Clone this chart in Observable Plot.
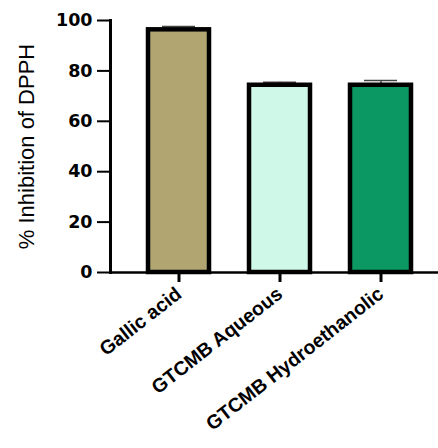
<!DOCTYPE html>
<html><head><meta charset="utf-8">
<script src="https://cdn.jsdelivr.net/npm/d3@7"></script>
<script src="https://cdn.jsdelivr.net/npm/@observablehq/plot@0.6"></script>
<style>body{margin:0;background:#fff}</style>
</head><body><div id="chart"></div>
<script>
const categories = ["Gallic acid", "GTCMB Aqueous", "GTCMB Hydroethanolic"];
const means = [96.3, 74.3, 74.3];
const sds = [1.3, 1.2, 1.9];
const yTicks = [0, 20, 40, 60, 80, 100];
const barColors = ["#b1a672", "#cff8e9", "#0b9862"];

const data = categories.map((c, i) => ({category: c, mean: means[i], top: means[i] + sds[i]}));

const svg = Plot.plot({
  width: 438, height: 448,
  marginLeft: 110, marginRight: 0, marginTop: 20, marginBottom: 176,
  style: {fontFamily: "'Liberation Sans', Arial, sans-serif", fontSize: "18px", fontWeight: "bold", color: "#000", background: "#fff"},
  x: {domain: categories, range: [107, 451], paddingInner: 0.4, paddingOuter: 0.4},
  y: {domain: [0, 100]},
  color: {domain: categories, range: barColors},
  marks: [
    Plot.ruleX(data, {x: "category", y1: "mean", y2: "top", stroke: "#444", strokeWidth: 1.5}),
    Plot.tickY(data, {x: "category", y: "top", stroke: "#444", strokeWidth: 1.5, inset: 14}),
    Plot.barY(data, {x: "category", y: "mean", fill: "category", stroke: "#000", strokeWidth: 4.5}),
    Plot.axisY({ticks: yTicks, tickSize: 13, tickPadding: 5, stroke: "#000", strokeWidth: 2, fontFamily: "'DejaVu Sans', sans-serif", fontSize: 17.5, fontWeight: "bold", label: null}),
    Plot.axisY({ticks: [], tickSize: 0, label: "% Inhibition of DPPH", labelAnchor: "center", labelArrow: "none", labelOffset: 92, fontSize: 22, fontWeight: "normal"}),
    Plot.axisX({tickSize: 10, tickPadding: 9, tickRotate: -38, stroke: "#000", strokeWidth: 3, fontSize: 19.5, label: null}),
    Plot.frame({anchor: "left", stroke: "#000", strokeWidth: 3}),
    Plot.ruleY([0], {stroke: "#000", strokeWidth: 2.5})
  ]
});
document.getElementById("chart").appendChild(svg);
</script>
</body></html>
